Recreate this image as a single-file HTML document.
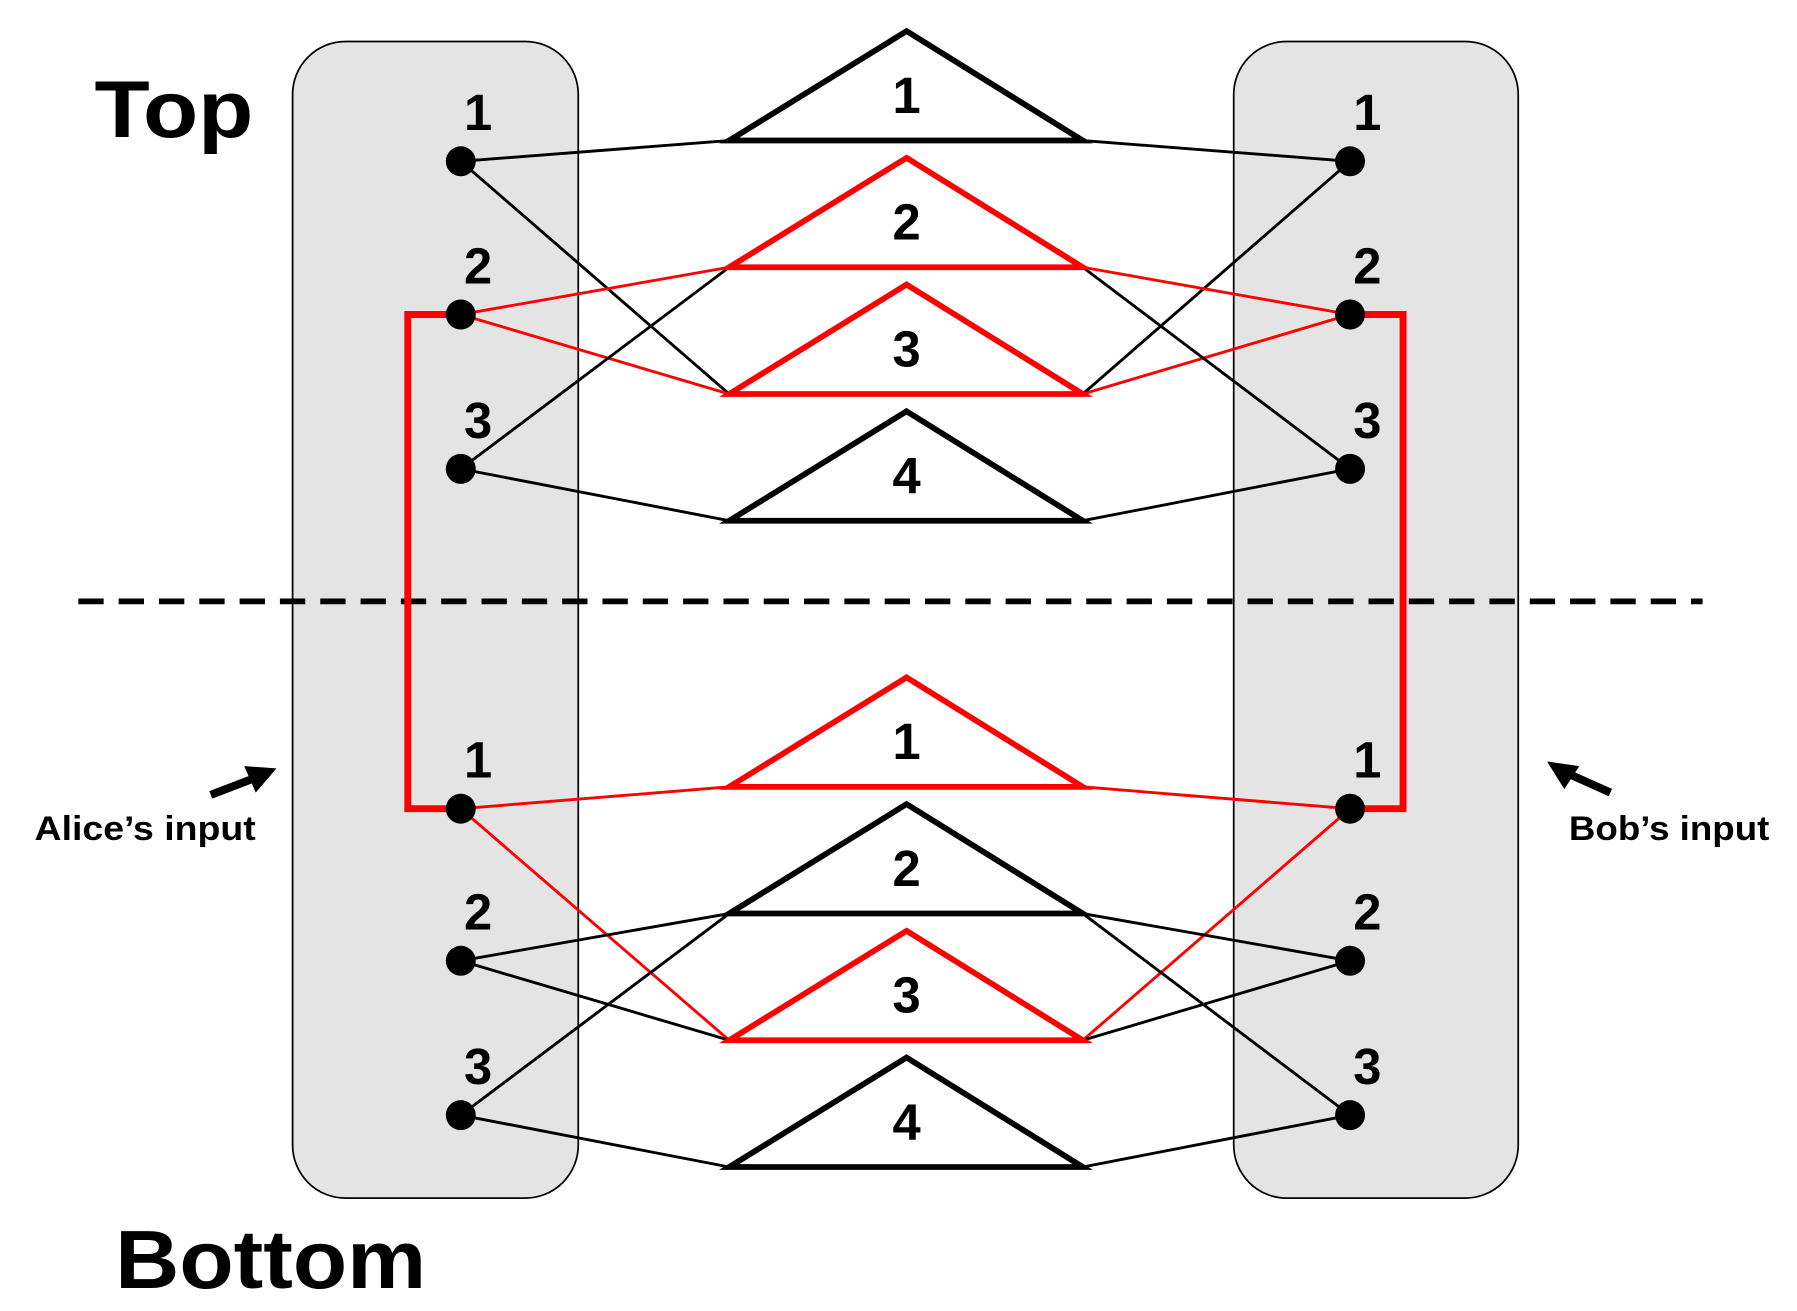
<!DOCTYPE html>
<html><head><meta charset="utf-8"><style>
html,body{margin:0;padding:0;background:#fff;}
svg{display:block;}
text{font-family:"Liberation Sans",sans-serif;font-weight:bold;fill:#000;}
</style></head><body>
<svg id="dia" width="1797" height="1311" viewBox="0 0 1560 1138" preserveAspectRatio="none" xmlns="http://www.w3.org/2000/svg">
<rect x="254" y="36" width="248" height="1004" rx="46" fill="#e4e4e4" stroke="#000" stroke-width="1.5"/>
<rect x="1071" y="36" width="247" height="1004" rx="46" fill="#e4e4e4" stroke="#000" stroke-width="1.5"/>
<line x1="68" y1="522" x2="1478" y2="522" stroke="#000" stroke-width="5" stroke-dasharray="22,13"/>
<g id="edges"></g>
<polyline points="400,273 354,273 354,702 400,702" fill="none" stroke="#f00" stroke-width="6"/>
<polyline points="1172,273 1218,273 1218,702 1172,702" fill="none" stroke="#f00" stroke-width="6"/>
<g id="tris"></g>
<g id="nodes"></g>
<text x="82" y="119" font-size="70" textLength="138" lengthAdjust="spacingAndGlyphs">Top</text>
<text x="100" y="1118" font-size="72" textLength="270" lengthAdjust="spacingAndGlyphs">Bottom</text>
<text x="30" y="729" font-size="30" textLength="192" lengthAdjust="spacingAndGlyphs">Alice’s input</text>
<text x="1362" y="729" font-size="30" textLength="174" lengthAdjust="spacingAndGlyphs">Bob’s input</text>
<g><line x1="183" y1="690" x2="222" y2="675" stroke="#000" stroke-width="7"/><polygon points="240,667 212,665 222,688" fill="#000"/></g>
<g><line x1="1398" y1="688" x2="1360" y2="671" stroke="#000" stroke-width="7"/><polygon points="1343,661 1371,665 1358,685" fill="#000"/></g>
<script>
const NS="http://www.w3.org/2000/svg";
const nodeYTop=[140,273,407];
const nodeYBottom=[702,834,968];
const triApexTop=[27,137,247,357];
const triApexBottom=[588,698,808,918];
const triHeight=95;
const triRedTop=[false,true,true,false];
const triRedBottom=[true,false,true,false];
// edges: [nodeIndex, triIndex, red]
const edgesTop=[[0,0,0],[0,2,0],[1,1,1],[1,2,1],[2,1,0],[2,3,0]];
const edgesBottom=[[0,0,1],[0,2,1],[1,1,0],[1,2,0],[2,1,0],[2,3,0]];
const AX=400,BX=1172,TL=633,TR=940,TC=787;
const eg=document.getElementById('edges'),tg=document.getElementById('tris'),ng=document.getElementById('nodes');
function mk(t,a){const e=document.createElementNS(NS,t);for(const k in a)e.setAttribute(k,a[k]);return e;}
function section(ny,apex,reds,edges,nm){
  edges.forEach(([n,t,r])=>{
    const base=apex[t]+triHeight;const c=r?'#f00':'#000';
    let l=mk('line',{x1:AX,y1:ny[n],x2:TL,y2:base,stroke:c,'stroke-width':2.5});
    
    
    eg.appendChild(l);
    let l2=mk('line',{x1:BX,y1:ny[n],x2:TR,y2:base,stroke:c,'stroke-width':2.5});
    
    
    eg.appendChild(l2);
  });
  apex.forEach((a,i)=>{
    const base=a+triHeight;
    let p=mk('polygon',{points:`${TC},${a} ${TR},${base} ${TL},${base}`,fill:'#fff',stroke:reds[i]?'#f00':'#000','stroke-width':5});
    
    
    tg.appendChild(p);
    let t=mk('text',{x:TC,y:base-24,'font-size':44,'text-anchor':'middle'});t.textContent=i+1;
    
    
    tg.appendChild(t);
  });
  ny.forEach((y,i)=>{
    [AX,BX].forEach((x,s)=>{
      let c=mk('circle',{cx:x,cy:y,r:13,fill:'#000'});
      
      
      ng.appendChild(c);
      let t=mk('text',{x:x+15,y:y-27,'font-size':44,'text-anchor':'middle'});t.textContent=i+1;
      
      
      ng.appendChild(t);
    });
  });
}
section(nodeYTop,triApexTop,triRedTop,edgesTop,'top');
section(nodeYBottom,triApexBottom,triRedBottom,edgesBottom,'bottom');
</script>
</svg>
</body></html>
